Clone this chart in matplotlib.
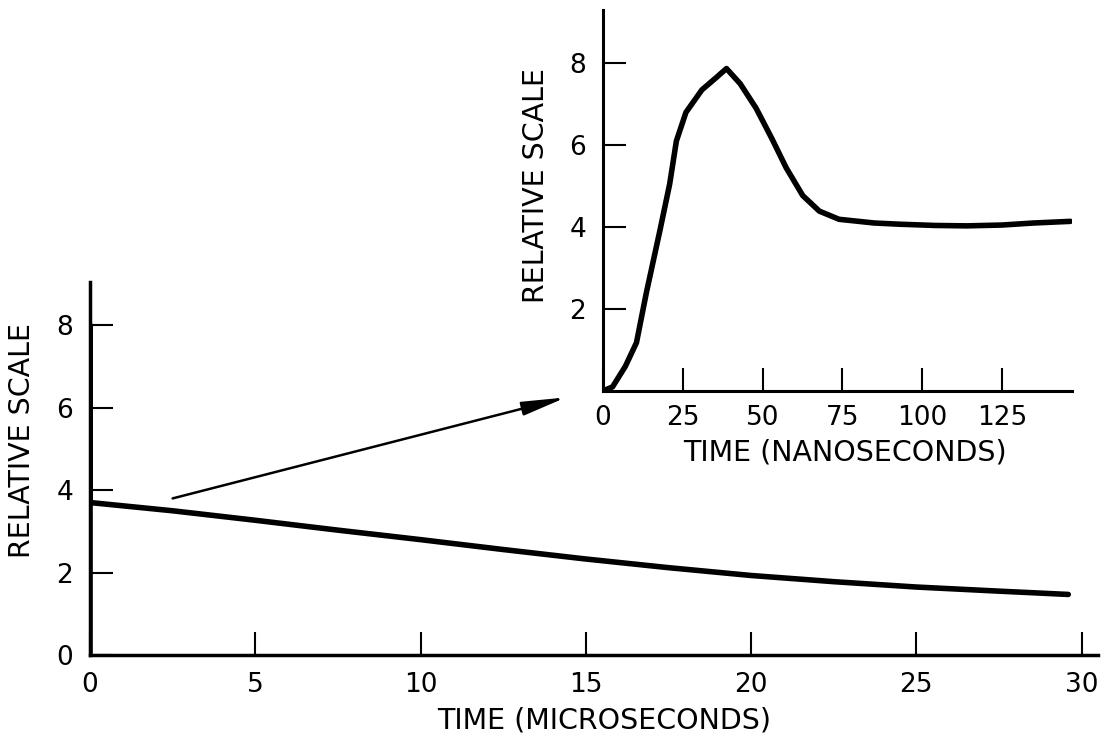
import matplotlib.pyplot as plt

plt.rcParams.update({
    'font.family': 'DejaVu Sans',
    'font.size': 19,
})

# main trace, microseconds (spike at t=0 drawn along the axis)
t_us = [0, 0, 0, 2.5, 5, 7.5, 10, 12.5, 15, 17.5, 20, 22.5, 25, 27.5, 29.6]
rel_us = [0, 8, 3.7, 3.5, 3.27, 3.03, 2.8, 2.56, 2.33, 2.12, 1.93, 1.78, 1.65, 1.55, 1.47]
us_xticks = [0, 5, 10, 15, 20, 25, 30]
us_yticks = [0, 2, 4, 6, 8]

# inset trace, nanoseconds
t_ns = [0, 3, 7, 10.5, 13.6, 17.8, 20.9, 23, 26, 31, 35.5, 38.7, 43, 48, 53, 57.4,
        62.6, 67.8, 74, 85, 93, 104, 114, 125, 135, 146.5]
rel_ns = [0, 0.1, 0.6, 1.18, 2.4, 3.9, 5.05, 6.1, 6.8, 7.35, 7.65, 7.87, 7.5, 6.9,
          6.15, 5.45, 4.77, 4.39, 4.19, 4.1, 4.07, 4.04, 4.03, 4.05, 4.1, 4.14]
ns_xticks = [0, 25, 50, 75, 100, 125]
ns_yticks = [2, 4, 6, 8]

label_size = 20.5

fig = plt.figure(figsize=(11.07, 7.43), dpi=100)

def style(ax, lw):
	for s in ['top', 'right']:
		ax.spines[s].set_visible(False)
	for s in ['left', 'bottom']:
		ax.spines[s].set_linewidth(lw)
	ax.tick_params(direction='in', length=16.5, width=1.5, pad=12)

# main axes
ax = fig.add_axes([0.0813, 0.1184, 0.9106, 0.502])
ax.plot(t_us, rel_us, color='black', lw=4.0, solid_capstyle='round', solid_joinstyle='round')
ax.set_xlim(0, 30.5)
ax.set_ylim(0, 9.05)
ax.set_xticks(us_xticks)
ax.set_yticks(us_yticks)
style(ax, 2.5)
ax.set_xlabel('TIME (MICROSECONDS)', fontsize=label_size)
ax.xaxis.set_label_coords(0.51, -0.138)
ax.set_ylabel('RELATIVE SCALE', fontsize=label_size)
ax.yaxis.set_label_coords(-0.054, 0.576)

ax.annotate('', xy=(14.4, 6.25), xytext=(2.5, 3.8),
            arrowprops=dict(arrowstyle='-|>,head_length=1.4,head_width=0.22',
                            color='black', lw=1.8, shrinkA=0, shrinkB=0))

# inset axes
ins = fig.add_axes([0.5447, 0.4738, 0.4237, 0.5128])
ins.plot(t_ns, rel_ns, color='black', lw=4.0, solid_capstyle='round', solid_joinstyle='round')
ins.set_xlim(0, 147)
ins.set_ylim(0, 9.3)
ins.set_xticks(ns_xticks)
ins.set_yticks(ns_yticks)
style(ins, 2.2)
ins.tick_params(axis='x', pad=10)
ins.set_xlabel('TIME (NANOSECONDS)', fontsize=label_size)
ins.xaxis.set_label_coords(0.515, -0.125)
ins.set_ylabel('RELATIVE SCALE', fontsize=label_size)
ins.yaxis.set_label_coords(-0.112, 0.54)

fig.savefig('out.png', dpi=100)
